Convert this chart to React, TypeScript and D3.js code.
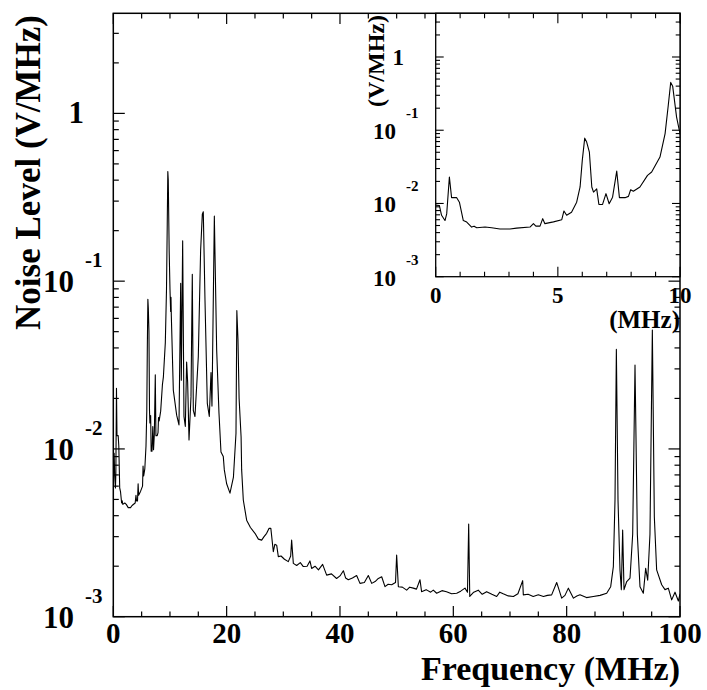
import React from "react";
import * as d3 from "d3";

// Spectrum: frequency (MHz) and noise level (V/MHz)
const freqMHz = [
  0.0, 0.15, 0.24, 0.38, 0.45, 0.56, 0.65, 0.86, 0.97, 1.13, 1.27, 1.47, 1.57, 1.68, 2.02, 2.29, 2.63, 3.04, 3.31, 3.86,
  4.0, 4.1, 4.27, 4.38, 4.47, 4.82, 5.16, 5.25, 5.36, 5.56, 5.77, 5.91, 6.0, 6.1, 6.18, 6.29, 6.39, 6.46, 6.52, 6.59,
  6.68, 6.83, 6.97, 7.1, 7.24, 7.41, 7.52, 7.75, 7.89, 7.98, 8.09, 8.36, 8.67, 8.84, 9.18, 9.39, 9.52, 9.62, 9.7, 9.86,
  10.0, 10.12, 10.18, 10.24, 10.59, 11.18, 11.59, 11.89, 12.0, 12.24, 12.47, 12.71, 12.94, 13.12, 13.36, 13.71, 13.94, 14.12, 14.41, 15.0,
  15.41, 15.71, 15.88, 16.18, 16.59, 16.94, 17.24, 17.41, 17.83, 18.24, 18.65, 19.0, 19.41, 19.59, 20.0, 20.59, 21.2, 21.65, 21.8, 22.0,
  22.2, 22.55, 22.65, 22.94, 23.53, 24.2, 25.0, 25.6, 26.18, 26.6, 27.06, 27.47, 27.8, 28.24, 28.5, 28.83, 29.12, 29.6, 30.2, 30.88,
  31.3, 31.47, 31.77, 32.36, 33.0, 33.53, 34.2, 34.7, 35.0, 35.6, 36.2, 36.94, 37.3, 37.65, 38.5, 39.4, 40.0, 40.6, 41.0, 41.47,
  42.2, 42.94, 43.53, 44.3, 45.0, 45.6, 46.2, 46.77, 47.36, 47.94, 48.5, 49.12, 49.8, 50.0, 50.3, 51.0, 51.77, 52.3, 52.94, 53.5,
  54.12, 54.4, 55.2, 56.0, 56.47, 57.06, 58.0, 58.8, 59.7, 60.6, 61.3, 62.06, 62.5, 62.71, 62.9, 63.6, 64.4, 65.1, 65.88, 66.8,
  67.65, 68.2, 68.8, 69.7, 70.6, 71.4, 72.24, 72.35, 73.2, 74.1, 75.0, 75.9, 76.6, 77.35, 78.24, 79.12, 79.7, 80.3, 81.2, 81.8,
  82.35, 83.5, 84.7, 85.9, 87.06, 87.77, 88.24, 88.53, 88.77, 89.06, 89.41, 89.65, 89.88, 90.12, 90.6, 91.18, 91.65, 92.06, 92.47, 92.94,
  93.53, 93.94, 94.3, 94.7, 95.12, 95.47, 95.88, 96.77, 97.35, 97.94, 98.53, 99.12, 99.71, 100.0,
];

const noiseLevel = [
  0.0095, 0.0094, 0.0069, 0.00585, 0.0072, 0.023, 0.012, 0.012, 0.0104, 0.00585, 0.00557, 0.00476, 0.0049, 0.00467, 0.00476, 0.00467, 0.00447, 0.00447, 0.0046, 0.00476,
  0.0053, 0.0049, 0.0049, 0.0062, 0.0053, 0.0056, 0.006, 0.0079, 0.0069, 0.0076, 0.0104, 0.0168, 0.0388, 0.078, 0.069, 0.0504, 0.0168, 0.0143, 0.015, 0.0158,
  0.0097, 0.0097, 0.0136, 0.0099, 0.0122, 0.0277, 0.012, 0.012, 0.0125, 0.0154, 0.0147, 0.0168, 0.0242, 0.0269, 0.043, 0.09, 0.219, 0.45, 0.4, 0.151,
  0.09, 0.066, 0.08, 0.062, 0.0224, 0.0159, 0.0139, 0.097, 0.0257, 0.174, 0.0156, 0.0136, 0.033, 0.025, 0.0113, 0.0205, 0.11, 0.017, 0.0156, 0.0355,
  0.153, 0.251, 0.259, 0.077, 0.0187, 0.0156, 0.0285, 0.018, 0.244, 0.039, 0.0163, 0.0096, 0.009, 0.0075, 0.0062, 0.00545, 0.0068, 0.0124, 0.0667, 0.045,
  0.02, 0.0118, 0.0075, 0.00496, 0.00376, 0.0034, 0.00314, 0.0029, 0.00286, 0.003, 0.00314, 0.00336, 0.00336, 0.00244, 0.0027, 0.00267, 0.00228, 0.0023, 0.0022, 0.00213,
  0.0023, 0.00286, 0.00208, 0.00202, 0.0021, 0.00199, 0.002, 0.00215, 0.00194, 0.002, 0.0019, 0.00205, 0.0019, 0.00177, 0.0018, 0.00169, 0.00175, 0.00188, 0.0017, 0.00166,
  0.0017, 0.00176, 0.00158, 0.0016, 0.00176, 0.00158, 0.00162, 0.00169, 0.00173, 0.00151, 0.00156, 0.00155, 0.0016, 0.00233, 0.00151, 0.0015, 0.00144, 0.0015, 0.00148, 0.00146,
  0.00166, 0.00141, 0.00145, 0.0014, 0.00144, 0.00138, 0.00143, 0.00141, 0.00137, 0.00138, 0.00142, 0.00148, 0.0014, 0.00357, 0.00132, 0.0014, 0.00144, 0.00136, 0.00141, 0.00136,
  0.00132, 0.0014, 0.00137, 0.00133, 0.00132, 0.00137, 0.00164, 0.00135, 0.00136, 0.00132, 0.00135, 0.00132, 0.00134, 0.00135, 0.0016, 0.00129, 0.00134, 0.00148, 0.00129, 0.00133,
  0.00135, 0.0013, 0.00132, 0.00134, 0.00138, 0.00151, 0.00199, 0.00497, 0.0392, 0.00497, 0.0019, 0.00145, 0.00329, 0.00145, 0.00162, 0.0017, 0.0031, 0.0316, 0.0031, 0.00151,
  0.00138, 0.00194, 0.00165, 0.0031, 0.0512, 0.00394, 0.0019, 0.00155, 0.00145, 0.00148, 0.00126, 0.0014, 0.00124, 0.00137,
];

const mainXTickLabels = [0, 20, 40, 60, 80, 100];
const insetXTickLabels = [0, 5, 10];
const decadeExponents = [-3, -2, -1, 0];
const mainXTitle = "Frequency (MHz)";
const mainYTitle = "Noise Level (V/MHz)";
const insetXTitle = "(MHz)";
const insetYTitle = "(V/MHz)";

const FONT = "'Liberation Serif', 'Times New Roman', serif";
const Y_TOP = 3.95;

function logTicks(): { v: number; major: boolean }[] {
  const out: { v: number; major: boolean }[] = [];
  for (const e of decadeExponents) {
    for (let k = 1; k <= 9; k++) {
      const v = k * Math.pow(10, e);
      if (v <= Y_TOP) out.push({ v, major: k === 1 });
    }
  }
  return out;
}

export default function App() {
  const data: [number, number][] = freqMHz.map((f, i) => [f, noiseLevel[i]]);

  // main frame
  const mx0 = 113.3, mx1 = 680, my0 = 13.3, my1 = 616.7;
  const xM = d3.scaleLinear().domain([0, 100]).range([mx0, mx1]);
  const yM = d3.scaleLog().domain([1e-3, Y_TOP]).range([my1, my0]);

  // inset frame
  const ix0 = 435.7, ix1 = 680, iy0 = 13.3, iy1 = 276.7;
  const xI = d3.scaleLinear().domain([0, 10]).range([ix0, ix1]);
  const yI = d3.scaleLog().domain([1e-3, Y_TOP]).range([iy1, iy0]);

  const lineM = d3.line<[number, number]>().x((d) => xM(d[0])).y((d) => yM(d[1]));
  const lineI = d3.line<[number, number]>().x((d) => xI(d[0])).y((d) => yI(d[1]));
  const insetData = data.filter((d) => d[0] <= 10.2);

  const yt = logTicks();
  const mainXMinor = d3.range(0, 100.01, 5);
  const insetXMinor = d3.range(0, 10.01, 1);

  return (
    <svg width={707} height={690} style={{ position: "absolute", left: 0, top: 0, background: "#fff" }}>
      <defs>
        <clipPath id="clipMain">
          <rect x={mx0} y={my0} width={mx1 - mx0} height={my1 - my0} />
        </clipPath>
        <clipPath id="clipInset">
          <rect x={ix0} y={iy0} width={ix1 - ix0} height={iy1 - iy0} />
        </clipPath>
      </defs>
      <rect x={0} y={0} width={707} height={690} fill="#fff" />

      {/* main curve */}
      <path d={lineM(data) || ""} fill="none" stroke="#000" strokeWidth={1.1} clipPath="url(#clipMain)" strokeLinejoin="round" />

      {/* main ticks */}
      <g stroke="#000" strokeWidth={1.2}>
        {mainXMinor.map((v) => {
          const L = v % 20 === 0 ? 10.7 : 5.3;
          const x = xM(v);
          return (
            <g key={"mx" + v}>
              <line x1={x} x2={x} y1={my1} y2={my1 - L} />
              <line x1={x} x2={x} y1={my0} y2={my0 + L} />
            </g>
          );
        })}
        {yt.map((t) => {
          const L = t.major ? 11.5 : 5.5;
          const y = yM(t.v);
          return (
            <g key={"my" + t.v}>
              <line x1={mx0} x2={mx0 + L} y1={y} y2={y} />
              <line x1={mx1} x2={mx1 - L} y1={y} y2={y} />
            </g>
          );
        })}
      </g>

      {/* main tick labels */}
      <g fontFamily={FONT} fontWeight="bold" fill="#000">
        {mainXTickLabels.map((v) => (
          <text key={"mxl" + v} x={xM(v)} y={643} fontSize={29} textAnchor="middle">
            {v}
          </text>
        ))}
        {decadeExponents.map((e) => {
          const y = yM(Math.pow(10, e));
          if (e === 0)
            return (
              <text key={"myl" + e} x={84} y={y + 10} fontSize={31} textAnchor="end">
                1
              </text>
            );
          return (
            <g key={"myl" + e}>
              <text x={74} y={y + 11} fontSize={31} textAnchor="end">
                10
              </text>
              <text x={85} y={y - 14} fontSize={21} textAnchor="start">
                {e}
              </text>
            </g>
          );
        })}
        <text x={mx1} y={680} fontSize={34} textAnchor="end">
          {mainXTitle}
        </text>
        <text transform={`translate(40,15) rotate(-90)`} fontSize={35} textAnchor="end">
          {mainYTitle}
        </text>
      </g>

      {/* main frame */}
      <rect x={mx0} y={my0} width={mx1 - mx0} height={my1 - my0} fill="none" stroke="#000" strokeWidth={1.5} />

      {/* inset */}
      <rect x={ix0} y={iy0} width={ix1 - ix0} height={iy1 - iy0} fill="#fff" />
      <path d={lineI(insetData) || ""} fill="none" stroke="#000" strokeWidth={1.1} clipPath="url(#clipInset)" strokeLinejoin="round" />
      <g stroke="#000" strokeWidth={1.1}>
        {insetXMinor.map((v) => {
          const L = v % 5 === 0 ? 10 : 5;
          const x = xI(v);
          return (
            <g key={"ix" + v}>
              <line x1={x} x2={x} y1={iy1} y2={iy1 - L} />
              <line x1={x} x2={x} y1={iy0} y2={iy0 + L} />
            </g>
          );
        })}
        {yt.map((t) => {
          const L = t.major ? 8 : 4.3;
          const y = yI(t.v);
          return (
            <g key={"iy" + t.v}>
              <line x1={ix0} x2={ix0 + L} y1={y} y2={y} />
              <line x1={ix1} x2={ix1 - L} y1={y} y2={y} />
            </g>
          );
        })}
      </g>
      <rect x={ix0} y={iy0} width={ix1 - ix0} height={iy1 - iy0} fill="none" stroke="#000" strokeWidth={1.3} />
      <g fontFamily={FONT} fontWeight="bold" fill="#000">
        {insetXTickLabels.map((v) => (
          <text key={"ixl" + v} x={xI(v)} y={303} fontSize={23} textAnchor="middle">
            {v}
          </text>
        ))}
        {decadeExponents.map((e) => {
          const y = yI(Math.pow(10, e));
          if (e === 0)
            return (
              <text key={"iyl" + e} x={404} y={y + 8.5} fontSize={23} textAnchor="end">
                1
              </text>
            );
          return (
            <g key={"iyl" + e}>
              <text x={396} y={y + 9} fontSize={23} textAnchor="end">
                10
              </text>
              <text x={406} y={y - 12} fontSize={15} textAnchor="start">
                {e}
              </text>
            </g>
          );
        })}
        <text x={ix1} y={328} fontSize={25} textAnchor="end">
          {insetXTitle}
        </text>
        <text transform={`translate(384,15) rotate(-90)`} fontSize={24} textAnchor="end">
          {insetYTitle}
        </text>
      </g>
    </svg>
  );
}
